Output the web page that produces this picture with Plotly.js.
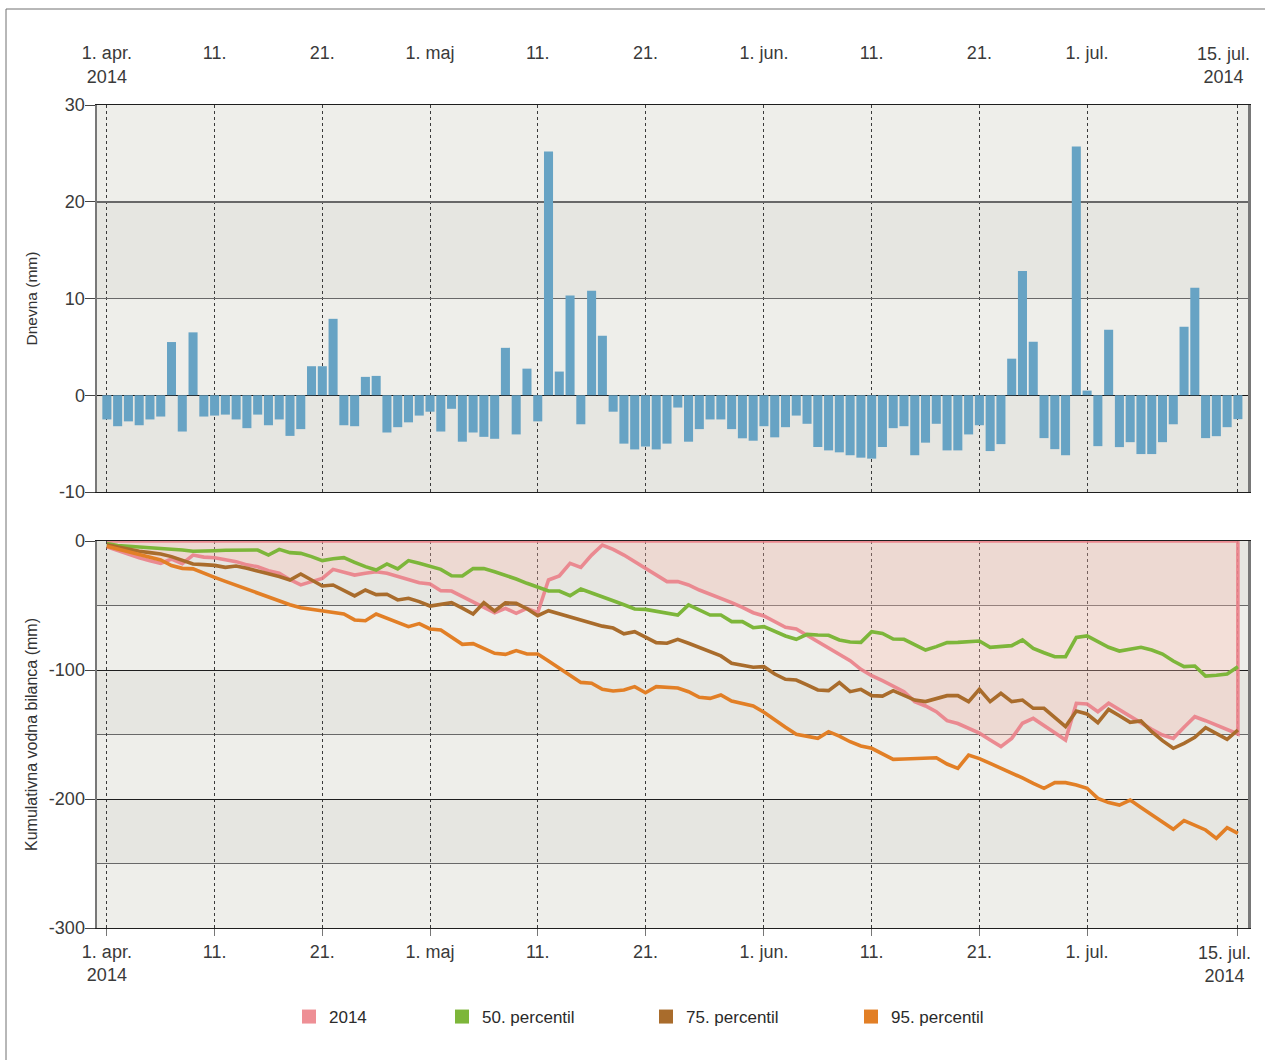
<!DOCTYPE html>
<html>
<head>
<meta charset="utf-8">
<script src="https://cdn.plot.ly/plotly-3.0.1.min.js"></script>
<style>
html, body { margin: 0; padding: 0; background: #ffffff; }
#chart { width: 1265px; height: 1060px; }
</style>
</head>
<body>
<div id="chart"></div>
<script>
// ---------- DATA ----------
const startYear = 2014, startMonth = 4, startDay = 1;

// Dnevna vodna bilanca (mm), 1. apr. – 15. jul. 2014
const dailyBalance = [
  -2.5, -3.2, -2.7, -3.1, -2.5, -2.2, 5.5, -3.75, 6.5, -2.2,
  -2.1, -2.0, -2.5, -3.4, -2.0, -3.1, -2.5, -4.2, -3.5, 3.0,
  3.0, 7.9, -3.1, -3.2, 1.9, 2.0, -3.85, -3.3, -2.8, -2.1,
  -1.7, -3.75, -1.4, -4.8, -3.85, -4.3, -4.5, 4.9, -4.05, 2.75,
  -2.7, 25.2, 2.45, 10.3, -3.0, 10.8, 6.15, -1.7, -5.0, -5.6,
  -5.3, -5.6, -5.0, -1.27, -4.8, -3.5, -2.5, -2.5, -3.5, -4.45,
  -4.7, -3.2, -4.35, -3.3, -2.1, -2.95, -5.35, -5.7, -5.9, -6.2,
  -6.45, -6.55, -5.35, -3.4, -3.2, -6.2, -4.9, -2.95, -5.7, -5.7,
  -4.05, -3.1, -5.77, -5.05, 3.78, 12.85, 5.53, -4.43, -5.57, -6.2,
  25.7, 0.48, -5.26, 6.77, -5.36, -4.85, -6.08, -6.08, -4.85, -3.0,
  7.08, 11.1, -4.43, -4.23, -3.3, -2.47
];

// Kumulativna vodna bilanca (mm)
const cum2014 = [
  -4.5, -7.5, -10, -13, -15.3, -17.3, -14, -17.5, -10.9, -12.5,
  -13, -14.5, -16, -18.5, -20, -23, -25, -30, -34, -31.5,
  -29, -22, -24.5, -26.4, -25, -23.8, -25, -27.6, -30.2, -32.3,
  -33.3, -38.5, -38.8, -43.2, -47.3, -51.4, -55.6, -52.2, -56.1, -52.2,
  -55.6, -30.2, -27.1, -17.3, -20.4, -10.9, -3.1, -6.5, -10.9, -16,
  -21.2, -26.4, -31.5, -31.5, -34.1, -38, -41.1, -44.4, -47.8, -51.4,
  -55.6, -58.1, -62.5, -66.9, -68.2, -73.1, -78.3, -83.5, -87.6, -92.8,
  -99.5, -104.4, -108.3, -112.4, -116.8, -124.5, -127.9, -132.3, -139.3, -141.5,
  -145, -149, -154.3, -159.4, -153, -141.3, -137.5, -143.4, -148.6, -154.3,
  -125.8, -126.4, -132.3, -125.8, -131, -135.7, -141.3, -146, -150.4, -153,
  -144.4, -136.2, -139.3, -142.6, -146, -149.6
];

const perc50 = [
  -2, -3.6, -4.1, -4.6, -5.2, -5.7, -6.2, -7.0, -8.0, -8.0,
  -7.5, -7.2, -7.0, -7.0, -7.0, -10.9, -6.5, -9.0, -9.6, -12.1,
  -15.2, -13.7, -12.9, -16.5, -19.9, -22.5, -17.8, -21.7, -15.2, -17.3,
  -19.4, -22, -26.9, -27.1, -21.4, -21.4, -23.8, -26.4, -29.5, -32.8,
  -35.9, -38.8, -38.8, -42.4, -37.2, -40, -43.2, -46.3, -49.4, -52.7,
  -53, -54.3, -56.1, -57.4, -49.6, -53.5, -57.4, -57.4, -62.5, -62.5,
  -67.2, -66.4, -70.3, -73.6, -76.2, -72.4, -72.9, -73.1, -76.7, -78.3,
  -78.6, -70.3, -71.6, -76, -76.2, -80.6, -84.5, -81.9, -78.8, -78.6,
  -78.3, -77.5, -82.4, -81.9, -81.1, -76.7, -83.2, -86.6, -89.7, -89.7,
  -74.7, -73.6, -78, -82.4, -85.3, -83.7, -82.4, -84.5, -87.6, -93,
  -97.4, -96.9, -104.7, -104.1, -103.1, -97.4
];

const perc75 = [
  -3, -4.9, -6.5, -8.0, -9.0, -10.1, -12.1, -14.7, -17.8, -18.3,
  -18.9, -20.4, -19.4, -21.2, -23.0, -25.3, -27.6, -30.2, -25.6, -30.2,
  -34.9, -34.1, -38, -42.6, -38, -41.6, -41.3, -45.7, -44.4, -47,
  -50.4, -49.4, -47.8, -52, -56.6, -47.8, -54.3, -48, -48.3, -52.5,
  -57.9, -54, -56.5, -59, -61.5, -64, -66, -67.5, -72, -70.3,
  -74.7, -78.8, -79.3, -76.2, -79.3, -82.4, -85.5, -89.1, -94.8, -96.6,
  -97.9, -97.4, -103.1, -107.2, -107.8, -111.6, -115.5, -116, -109.8, -116.8,
  -115, -119.9, -120.2, -116, -119.4, -123.3, -124.5, -122, -119.9, -119.9,
  -124.5, -115, -124.5, -118, -124.5, -123.3, -129.7, -129.7, -136.7, -143.9,
  -131.8, -134.1, -140.8, -130.5, -135.4, -140.6, -139.5, -147.8, -154.8, -160.7,
  -156.8, -152.2, -144.7, -149.1, -153.7, -146.5
];

const perc95 = [
  -4, -6.2, -8.5, -10.9, -12.7, -14.7, -19, -21.2, -21.6, -25.1,
  -28.2, -31.3, -34.4, -37.5, -40.6, -43.7, -46.5, -49.4, -51.7, -53,
  -54, -55, -56.6, -61.2, -61.8, -56.6, -60, -63, -66.4, -64,
  -68.2, -69, -74.7, -80.1, -79.6, -83.5, -87.1, -87.9, -85, -87.6,
  -87.6, -93, -98.7, -104.4, -109.6, -110.3, -115, -116.3, -115.5, -112.9,
  -117.6, -112.9, -113.2, -114, -116.8, -121.2, -122, -119.4, -124, -125.8,
  -127.9, -132.8, -138.8, -144.4, -149.9, -151.7, -153, -147.8, -151.2, -155.6,
  -158.9, -160.7, -165.1, -169.3, -169, -168.7, -168.5, -168, -172.9, -176.2,
  -165.9, -168.7, -172.4, -176, -179.8, -183.7, -187.9, -191.7, -187.3, -187.3,
  -189.1, -191.7, -199.5, -202.8, -204.7, -200.8, -206.5, -212.4, -217.8, -223.5,
  -216.8, -220.2, -224, -230.5, -222.2, -226.6
];

const seriesNames = ['2014', '50. percentil', '75. percentil', '95. percentil'];
const seriesColors = ['#ee8f95', '#7db63a', '#a96c2c', '#e27f26'];

const NB = '\u00a0';
const tickDates = ['2014-04-01', '2014-04-11', '2014-04-21', '2014-05-01', '2014-05-11', '2014-05-21',
                   '2014-06-01', '2014-06-11', '2014-06-21', '2014-07-01', '2014-07-15'];
// top axis: single-line labels sit on the first line; last label drawn as a right-aligned annotation
const topTickLabels = ['1. apr.<br>2014', '11.<br>' + NB, '21.<br>' + NB, '1. maj<br>' + NB, '11.<br>' + NB, '21.<br>' + NB,
                       '1. jun.<br>' + NB, '11.<br>' + NB, '21.<br>' + NB, '1. jul.<br>' + NB, ''];
const bottomTickLabels = ['1. apr.<br>2014', '11.', '21.', '1. maj', '11.', '21.',
                          '1. jun.', '11.', '21.', '1. jul.', ''];
const endTickDate = '2014-07-15';
const endTickLabel = '15. jul.<br>2014';

const topTicks = [-10, 0, 10, 20, 30];
const topTickText = ['-10', '0', '10', '20', '30'];
const bottomTicks = [-300, -200, -100, 0];
const bottomTickText = ['-300', '-200', '-100', '0'];
const bottomMinorTicks = [-250, -150, -50];

// ---------- BUILD ----------
function dayDate(i) {
  const d = new Date(Date.UTC(startYear, startMonth - 1, startDay + i));
  return d.toISOString().slice(0, 10);
}
const dates = dailyBalance.map((_, i) => dayDate(i));
const last = dates.length - 1;

const DAY = 86400000;
const fontFam = "'Liberation Sans', Arial, Helvetica, sans-serif";
const tickFont = { family: fontFam, size: 18, color: '#3a3a3a' };

const traces = [
  {
    type: 'bar', x: dates, y: dailyBalance, xaxis: 'x', yaxis: 'y',
    marker: { color: '#67a3c4' }, width: 0.84 * DAY, showlegend: false, hoverinfo: 'x+y'
  },
  {
    type: 'scatter', mode: 'lines', xaxis: 'x2', yaxis: 'y2',
    x: dates.concat([dates[last], dates[0]]),
    y: cum2014.concat([0, 0]),
    fill: 'toself', fillcolor: 'rgba(255,190,175,0.30)',
    line: { color: 'rgba(234,128,136,0.9)', width: 3.6 },
    showlegend: false, name: seriesNames[0]
  },
  { type: 'scatter', mode: 'lines', xaxis: 'x2', yaxis: 'y2', x: dates, y: perc50,
    line: { color: seriesColors[1], width: 3.6 }, showlegend: false, name: seriesNames[1] },
  { type: 'scatter', mode: 'lines', xaxis: 'x2', yaxis: 'y2', x: dates, y: perc75,
    line: { color: seriesColors[2], width: 3.6 }, showlegend: false, name: seriesNames[2] },
  { type: 'scatter', mode: 'lines', xaxis: 'x2', yaxis: 'y2', x: dates, y: perc95,
    line: { color: seriesColors[3], width: 3.6 }, showlegend: false, name: seriesNames[3] }
];

// legend-only square swatches
const legendIds = ['legend', 'legend2', 'legend3', 'legend4'];
seriesNames.forEach((nm, i) => {
  traces.push({
    type: 'scatter', mode: 'markers', xaxis: 'x2', yaxis: 'y2', x: [null], y: [null],
    name: nm, legend: legendIds[i], showlegend: true,
    marker: { symbol: 'square', size: 14, color: seriesColors[i] }
  });
});

const legendCentersPx = [313, 466, 670, 875];
const plotL = 97, plotW = 1151, plotB = 928, plotH = 823;
function legendCfg(px) {
  return {
    x: (px - 24 - plotL) / plotW, xanchor: 'left',
    y: (plotB - 1017) / plotH, yanchor: 'middle',
    orientation: 'h', bgcolor: 'rgba(0,0,0,0)', itemsizing: 'trace',
    font: { family: fontFam, size: 17, color: '#2a2a2a' }
  };
}

const darkBand = '#e6e6e1';
const shapes = [];
[[10, 20], [-10, 0]].forEach(b => shapes.push({
  type: 'rect', xref: 'x domain', yref: 'y', x0: 0, x1: 1, y0: b[0], y1: b[1],
  fillcolor: darkBand, line: { width: 0 }, layer: 'below'
}));
[[-50, 0], [-150, -100], [-250, -200]].forEach(b => shapes.push({
  type: 'rect', xref: 'x2 domain', yref: 'y2', x0: 0, x1: 1, y0: b[0], y1: b[1],
  fillcolor: darkBand, line: { width: 0 }, layer: 'below'
}));
// outer frame
shapes.push({
  type: 'rect', xref: 'paper', yref: 'paper',
  x0: (6 - plotL) / plotW, x1: 1.2, y0: -0.4, y1: (plotB - 9) / plotH,
  line: { color: '#707070', width: 1 }, fillcolor: 'rgba(0,0,0,0)', layer: 'below'
});

// end-of-period tick labels, kept inside the figure (right-aligned at the last tick)
const annotations = [
  { xref: 'x', yref: 'paper', x: endTickDate, y: (plotB - 65) / plotH, xanchor: 'right', yanchor: 'middle',
    xshift: 14, text: endTickLabel, showarrow: false, align: 'center', font: tickFont },
  { xref: 'x2', yref: 'paper', x: endTickDate, y: (plotB - 965) / plotH, xanchor: 'right', yanchor: 'middle',
    xshift: 15, text: endTickLabel, showarrow: false, align: 'center', font: tickFont }
];

const xCommon = {
  type: 'date',
  range: ['2014-03-31 02:00', '2014-07-15 22:30'],
  tickmode: 'array', tickvals: tickDates,
  showgrid: true, gridcolor: '#3a3a3a', griddash: 'dot', gridwidth: 1,
  showline: true, mirror: true, linecolor: '#1e1e1e', linewidth: 1,
  tickfont: tickFont, zeroline: false, fixedrange: true
};

const layout = {
  width: 1265, height: 1060,
  margin: { l: 97, r: 17, t: 105, b: 132 },
  paper_bgcolor: '#ffffff', plot_bgcolor: '#eeeeea',
  font: { family: fontFam, color: '#3a3a3a' },
  bargap: 0.16,
  xaxis: Object.assign({}, xCommon, {
    anchor: 'y', side: 'top', ticks: '', ticklabelstandoff: 14, ticktext: topTickLabels
  }),
  xaxis2: Object.assign({}, xCommon, {
    anchor: 'y2', matches: 'x', side: 'bottom', ticktext: bottomTickLabels,
    ticks: 'outside', ticklen: 7, tickcolor: '#777', tickwidth: 1
  }),
  yaxis: {
    domain: [(plotB - 492) / plotH, 1], anchor: 'x',
    range: [-10, 30], tickmode: 'array', tickvals: topTicks, ticktext: topTickText,
    showgrid: true, gridcolor: '#686868', gridwidth: 1.6,
    zeroline: true, zerolinecolor: '#151515', zerolinewidth: 1.5,
    showline: true, mirror: true, linecolor: '#787878', linewidth: 2.5,
    ticks: 'outside', ticklen: 10, tickcolor: '#444', tickwidth: 1, ticklabelstandoff: -4,
    tickfont: tickFont, fixedrange: true,
    title: { text: 'Dnevna (mm)', font: { family: fontFam, size: 15.5, color: '#333' }, standoff: 18 }
  },
  yaxis2: {
    domain: [0, (plotB - 541) / plotH], anchor: 'x2',
    range: [-300, 0], tickmode: 'array', tickvals: bottomTicks, ticktext: bottomTickText,
    showgrid: true, gridcolor: '#1e1e1e', gridwidth: 1,
    minor: { tickmode: 'array', tickvals: bottomMinorTicks, showgrid: true, gridcolor: '#686868', gridwidth: 1.6, ticks: '' },
    zeroline: false,
    showline: true, mirror: true, linecolor: '#787878', linewidth: 2.5,
    ticks: 'outside', ticklen: 10, tickcolor: '#444', tickwidth: 1, ticklabelstandoff: -4,
    tickfont: tickFont, fixedrange: true,
    title: { text: 'Kumulativna vodna bilanca (mm)', font: { family: fontFam, size: 16, color: '#333' }, standoff: 8 }
  },
  shapes: shapes,
  annotations: annotations,
  legend: legendCfg(legendCentersPx[0]),
  legend2: legendCfg(legendCentersPx[1]),
  legend3: legendCfg(legendCentersPx[2]),
  legend4: legendCfg(legendCentersPx[3]),
  showlegend: true
};

Plotly.newPlot('chart', traces, layout, { displayModeBar: false, staticPlot: true });
</script>
</body>
</html>
